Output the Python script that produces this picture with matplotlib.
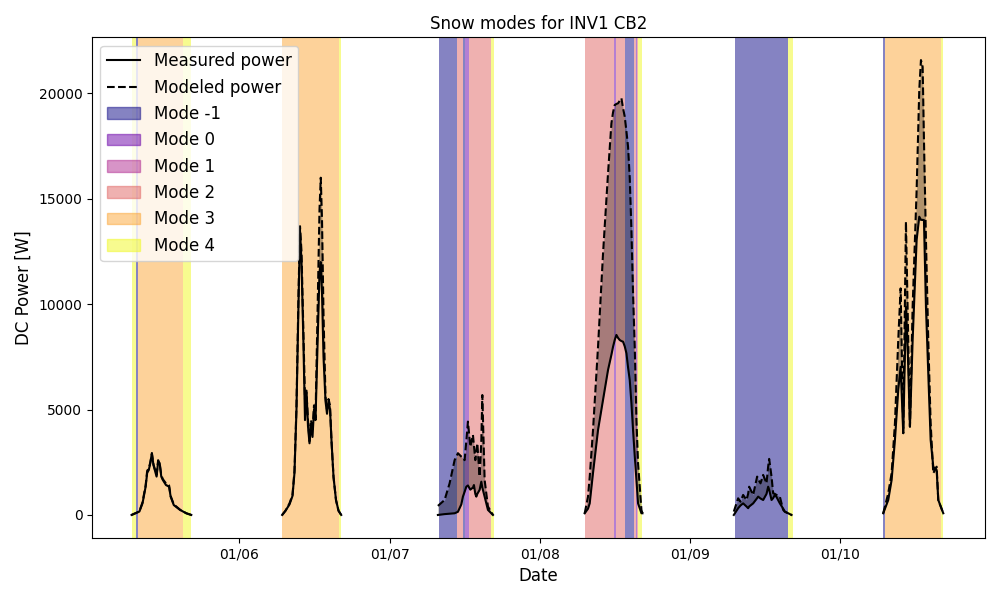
import matplotlib
matplotlib.use("Agg")
import matplotlib.pyplot as plt
import matplotlib.dates as mdates
from matplotlib.patches import Patch
from matplotlib.lines import Line2D
import numpy as np
import pandas as pd

start = pd.Timestamp("2022-01-05")

# hours of day, measured and modeled DC power [W], one list per day
hours = [
    [6.75, 8.0, 8.5, 9.0, 9.25, 9.5, 9.75, 10.0, 10.25, 10.75, 11.0, 11.25, 11.5, 11.75,
     12.25, 12.75, 13.0, 13.5, 14.5, 15.5, 16.3],
    [6.83, 7.36, 8.0, 8.48, 8.8, 9.12, 9.44, 9.68, 9.92, 10.24, 10.48, 10.72, 10.96, 11.2,
     11.44, 11.68, 11.92, 12.16, 12.48, 12.8, 13.0, 13.2, 13.44, 13.76, 14.0, 14.24, 14.48,
     14.72, 15.04, 15.44, 15.84, 16.27],
    [7.73, 8.8, 9.6, 10.4, 10.93, 11.47, 11.73, 12.0, 12.27, 12.53, 12.91, 13.33, 13.49,
     13.71, 13.87, 14.03, 14.4, 14.67, 14.83, 15.2, 15.73, 16.53],
    [7.2, 7.73, 8.0, 8.53, 9.33, 10.13, 10.93, 11.47, 11.73, 12.0, 12.27, 12.53, 12.8, 13.07,
     13.33, 13.6, 13.87, 14.13, 14.4, 14.67, 14.93, 15.2, 15.47, 15.73, 16.27, 16.43],
    [7.04, 7.73, 8.11, 8.53, 9.07, 9.33, 9.49, 10.13, 10.77, 10.93, 11.31, 11.73, 12.27,
     12.53, 12.69, 13.07, 13.33, 13.6, 13.87, 14.4, 14.93, 15.2, 16.27],
    [6.93, 7.73, 8.27, 8.8, 9.33, 9.71, 10.13, 10.56, 10.88, 11.2, 11.63, 12.27, 12.69,
     12.96, 13.23, 13.44, 13.76, 14.13, 14.51, 14.93, 15.47, 15.73, 16.53],
]
measured = [
    [0, 160, 550, 1340, 2000, 2130, 2460, 2940, 2370, 1820, 2530, 2460, 1820, 1660,
     1420, 1340, 870, 470, 240, 80, 0],
    [0, 200, 500, 900, 2000, 5000, 10000, 13500, 12000, 8000, 4500, 5900, 4200, 3400,
     4300, 3700, 5000, 4500, 8000, 11500, 12000, 10500, 7500, 5400, 4800, 5400, 5000,
     3500, 1800, 700, 200, 0],
    [0, 40, 60, 80, 150, 500, 870, 1100, 1340, 1400, 1200, 1300, 1420,
     1000, 870, 1000, 1190, 1580, 1300, 870, 240, 0],
    [80, 300, 550, 2000, 4030, 5460, 6880, 7600, 7980, 8300, 8540, 8400, 8300, 8250,
     8220, 8000, 7670, 7000, 6400, 5300, 4030, 2800, 1660, 550, 80, 80],
    [0, 320, 450, 550, 400, 320, 400, 550, 800, 870, 780, 710, 1000,
     1340, 1200, 710, 800, 950, 850, 550, 300, 160, 0],
    [80, 710, 1660, 3560, 5930, 7030, 3880, 9880, 7500, 4190, 8300, 13050, 14150,
     14000, 14000, 13990, 9880, 6720, 3560, 2290, 2130, 710, 80],
]
modeled = [
    [0, 170, 600, 1400, 2100, 2200, 2500, 2900, 2400, 1900, 2600, 2400, 1900, 1700,
     1500, 1400, 900, 500, 250, 80, 0],
    [0, 200, 550, 950, 2100, 5200, 10500, 13700, 12500, 8500, 5500, 5800, 4500, 3500,
     4500, 4000, 5200, 4600, 9500, 14500, 16000, 14000, 9500, 5600, 5000, 5500, 5200,
     3500, 1800, 700, 200, 0],
    [430, 710, 1500, 2600, 2930, 2770, 2700, 2600, 3500, 4430, 3240, 3800, 3300,
     2600, 3000, 3400, 1820, 3500, 5690, 1660, 400, 0],
    [80, 870, 1800, 4030, 7980, 12400, 16210, 18580, 19100, 19450, 19500, 19530, 19650, 19770,
     19300, 18900, 18200, 17470, 16000, 13520, 10500, 7980, 4500, 2450, 240, 80],
    [160, 790, 630, 950, 710, 1000, 1340, 950, 1820, 1700, 1500, 1900, 1500,
     2300, 2660, 1820, 1030, 1000, 950, 870, 240, 150, 0],
    [80, 1030, 1980, 4350, 8300, 10750, 3880, 13910, 9000, 4190, 9880, 15420, 20160,
     21580, 21260, 17790, 13050, 8300, 4350, 1980, 2290, 710, 80],
]

# snow mode spans: day index, start hour, end hour, mode
span_day = [0, 0, 0, 0,
            1, 1,
            2, 2, 2, 2, 2, 2,
            3, 3, 3, 3, 3, 3, 3, 3,
            4, 4,
            5, 5, 5]
span_start = [6.9, 7.5, 7.75, 15.0,
              6.88, 15.9,
              7.84, 10.83, 11.68, 12.05, 12.64, 16.16,
              7.2, 11.89, 12.16, 13.6, 15.12, 15.4, 15.55, 15.7,
              7.2, 15.68,
              6.88, 7.2, 16.16]
span_end = [7.5, 7.75, 15.0, 16.3,
            15.9, 16.27,
            10.83, 11.68, 12.05, 12.64, 16.16, 16.64,
            11.89, 12.16, 13.6, 15.12, 15.4, 15.55, 15.7, 16.43,
            15.68, 16.48,
            7.2, 16.16, 16.56]
span_mode = [4, -1, 3, 4,
             3, 4,
             -1, 2, -1, 0, 2, 4,
             2, 0, 2, -1, 2, 0, 2, 4,
             -1, 4,
             -1, 3, 4]

modes = [-1, 0, 1, 2, 3, 4]
colors = plt.cm.plasma(np.linspace(0, 1, len(modes)))
mode_color = dict(zip(modes, colors))

fig, ax = plt.subplots(figsize=(10, 6))

for d, s, e, m in zip(span_day, span_start, span_end, span_mode):
    day = start + pd.Timedelta(days=d)
    ax.axvspan(day + pd.Timedelta(hours=s), day + pd.Timedelta(hours=e),
               color=mode_color[m], alpha=0.5, lw=0)

for d in range(len(hours)):
    t = start + pd.Timedelta(days=d) + pd.to_timedelta(hours[d], unit="h")
    ax.plot(t, measured[d], color="k", lw=1.5)
    ax.plot(t, modeled[d], color="k", ls="--", lw=1.5)
    ax.fill_between(t, measured[d], modeled[d], color="k", alpha=0.3, lw=0)

ax.set_xlim(start + pd.Timedelta(hours=0.45), start + pd.Timedelta(hours=143.2))
ax.set_ylim(-1080, 22660)
ax.xaxis.set_major_locator(mdates.DayLocator())
ax.xaxis.set_major_formatter(mdates.DateFormatter("%m/%d"))

handles = [Line2D([], [], color="k", lw=1.5, label="Measured power"),
           Line2D([], [], color="k", ls="--", lw=1.5, label="Modeled power")]
handles += [Patch(facecolor=mode_color[m], edgecolor=mode_color[m], alpha=0.5,
                  label=f"Mode {m}") for m in modes]
ax.legend(handles=handles, loc="upper left", fontsize=12)

ax.set_title("Snow modes for INV1 CB2")
ax.set_xlabel("Date", fontsize=12)
ax.set_ylabel("DC Power [W]", fontsize=12)
fig.tight_layout()
fig.savefig("out.png", dpi=100)
